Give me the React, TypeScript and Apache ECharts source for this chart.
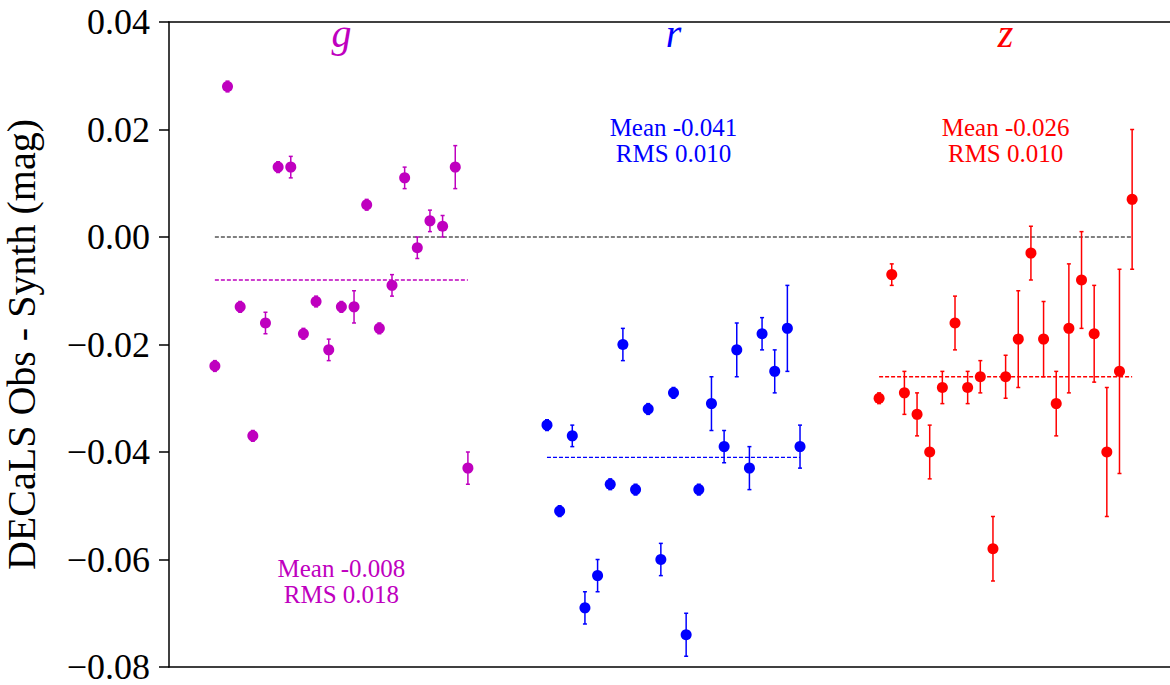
import React, { useEffect, useRef } from "react";
import * as echarts from "echarts";

// ---- data ----
const bands = ["g", "r", "z"];
const bandColors = ["#bf00bf", "#0000ff", "#ff0000"];
const bandOffsets = [0, 26.25, 52.5];

const gValues = [-0.024, 0.028, -0.013, -0.037, -0.016, 0.013, 0.013, -0.018, -0.012, -0.021, -0.013, -0.013, 0.006, -0.017, -0.009, 0.011, -0.002, 0.003, 0.002, 0.013, -0.043];
const gErrors = [0.001, 0.001, 0.001, 0.001, 0.002, 0.001, 0.002, 0.001, 0.001, 0.002, 0.001, 0.003, 0.001, 0.001, 0.002, 0.002, 0.002, 0.002, 0.002, 0.004, 0.003];

const rValues = [-0.035, -0.051, -0.037, -0.069, -0.063, -0.046, -0.020, -0.047, -0.032, -0.060, -0.029, -0.074, -0.047, -0.031, -0.039, -0.021, -0.043, -0.018, -0.025, -0.017, -0.039];
const rErrors = [0.001, 0.001, 0.002, 0.003, 0.003, 0.001, 0.003, 0.001, 0.001, 0.003, 0.001, 0.004, 0.001, 0.005, 0.003, 0.005, 0.004, 0.003, 0.004, 0.008, 0.004];

const zValues = [-0.030, -0.007, -0.029, -0.033, -0.040, -0.028, -0.016, -0.028, -0.026, -0.058, -0.026, -0.019, -0.003, -0.019, -0.031, -0.017, -0.008, -0.018, -0.040, -0.025, 0.007];
const zErrors = [0.001, 0.002, 0.004, 0.004, 0.005, 0.003, 0.005, 0.003, 0.003, 0.006, 0.004, 0.009, 0.005, 0.007, 0.006, 0.012, 0.009, 0.009, 0.012, 0.019, 0.013];

const bandMeans = [-0.008, -0.041, -0.026];
const bandRms = [0.018, 0.010, 0.010];

const yMin = -0.08;
const yMax = 0.04;
const yInterval = 0.02;
const yAxisName = "DECaLS Obs - Synth (mag)";

const allValues = [gValues, rValues, zValues];
const allErrors = [gErrors, rErrors, zErrors];

const FONT = "'Liberation Serif', 'Times New Roman', 'DejaVu Serif', serif";

function buildOption() {
  const series: any[] = [];
  const nPts = gValues.length;
  const lastX = bandOffsets[2] + nPts - 1;

  // zero reference line
  series.push({
    type: "line",
    data: [[0, 0], [lastX, 0]],
    symbol: "none",
    silent: true,
    z: 1,
    itemStyle: { color: "#000" },
    lineStyle: { color: "#000", width: 1, type: [4, 2] },
  });

  bands.forEach((b, bi) => {
    const color = bandColors[bi];
    const off = bandOffsets[bi];
    const vals = allValues[bi];
    const errs = allErrors[bi];
    const pts = vals.map((v, i) => [off + i, v, errs[i]]);

    series.push({
      type: "custom",
      data: pts,
      silent: true,
      z: 2,
      renderItem: (params: any, api: any) => {
        const x = api.value(0);
        const y = api.value(1);
        const e = api.value(2);
        const top = api.coord([x, y + e]);
        const bot = api.coord([x, y - e]);
        const cap = 2;
        const st = { stroke: color, lineWidth: 1.5 };
        return {
          type: "group",
          children: [
            { type: "line", shape: { x1: top[0], y1: top[1], x2: bot[0], y2: bot[1] }, style: st },
            { type: "line", shape: { x1: top[0] - cap, y1: top[1], x2: top[0] + cap, y2: top[1] }, style: st },
            { type: "line", shape: { x1: bot[0] - cap, y1: bot[1], x2: bot[0] + cap, y2: bot[1] }, style: st },
          ],
        };
      },
    });

    series.push({
      type: "scatter",
      data: pts.map((p) => [p[0], p[1]]),
      symbol: "circle",
      symbolSize: 11,
      silent: true,
      z: 3,
      itemStyle: { color, opacity: 1 },
    });

    // mean line
    series.push({
      type: "line",
      data: [[off, bandMeans[bi]], [off + nPts - 1, bandMeans[bi]]],
      symbol: "none",
      silent: true,
      z: 4,
      color,
      itemStyle: { color },
      lineStyle: { color, width: 1.3, type: [4, 2], opacity: 1 },
    });

    // band label
    series.push({
      type: "scatter",
      data: [[off + (nPts - 1) / 2, 0.0378]],
      symbolSize: 0,
      silent: true,
      z: 5,
      itemStyle: { opacity: 1 },
      label: {
        show: true,
        position: "inside",
        formatter: b,
        color,
        fontFamily: FONT,
        fontStyle: "italic",
        fontSize: 40,
      },
    });

    // stats annotation
    const annY = bi === 0 ? -0.0641 : 0.018;
    series.push({
      type: "scatter",
      data: [[off + (nPts - 1) / 2, annY]],
      symbolSize: 0,
      silent: true,
      z: 5,
      itemStyle: { opacity: 1 },
      label: {
        show: true,
        position: "inside",
        formatter: `Mean ${bandMeans[bi].toFixed(3)}\nRMS ${bandRms[bi].toFixed(3)}`,
        color,
        fontFamily: FONT,
        fontSize: 25,
        lineHeight: 26,
        align: "center",
      },
    });
  });

  const xMin = -0.05 * lastX;
  const xMax = lastX * 1.05;

  return {
    animation: false,
    backgroundColor: "#fff",
    grid: { left: 169, top: 22, right: 12, bottom: 18, containLabel: false, outerBoundsMode: "none" },
    xAxis: [
      {
        type: "value",
        min: xMin,
        max: xMax,
        position: "bottom",
        axisLine: { show: true, onZero: false, lineStyle: { color: "#000", width: 1.5 } },
        axisTick: { show: false },
        axisLabel: { show: false },
        splitLine: { show: false },
      },
      {
        type: "value",
        min: xMin,
        max: xMax,
        position: "top",
        axisLine: { show: true, onZero: false, lineStyle: { color: "#000", width: 1.5 } },
        axisTick: { show: false },
        axisLabel: { show: false },
        splitLine: { show: false },
      },
    ],
    yAxis: {
      type: "value",
      min: yMin,
      max: yMax,
      interval: yInterval,
      name: yAxisName,
      nameLocation: "middle",
      nameGap: 128,
      nameTextStyle: { fontFamily: FONT, fontSize: 40, color: "#000" },
      axisLine: { show: true, onZero: false, lineStyle: { color: "#000", width: 1.5 } },
      axisTick: { show: true, inside: false, length: 10, lineStyle: { color: "#000", width: 1.5 } },
      axisLabel: {
        margin: 19,
        fontFamily: FONT,
        fontSize: 36,
        lineHeight: 28,
        color: "#000",
        formatter: (v: number) => {
          const s = (Math.abs(v) < 1e-9 ? 0 : v).toFixed(2);
          return s.replace("-", "\u2212");
        },
      },
      splitLine: { show: false },
    },
    series,
  };
}

export default function App() {
  const ref = useRef<HTMLDivElement>(null);
  useEffect(() => {
    if (!ref.current) return;
    const chart = echarts.init(ref.current, undefined, { renderer: "svg" });
    chart.setOption(buildOption() as any);
    return () => chart.dispose();
  }, []);
  return (
    <div style={{ position: "fixed", left: 0, top: 0, width: 1170, height: 685, overflow: "hidden", background: "#fff" }}>
      <div ref={ref} style={{ width: 1190, height: 685 }} />
    </div>
  );
}
